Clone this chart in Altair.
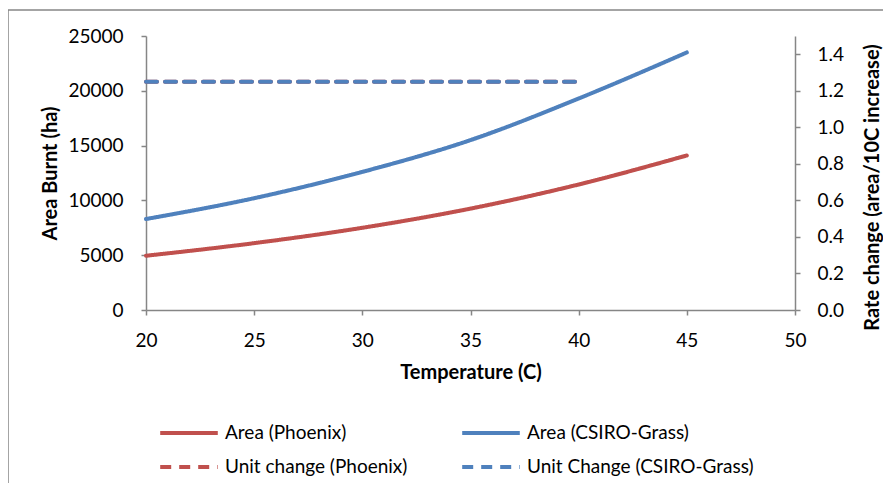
import altair as alt
import pandas as pd

# ---- data ----
temps = [20, 25, 30, 35, 40, 45]
area_phoenix = [4950, 6100, 7500, 9250, 11450, 14100]
area_csiro = [8300, 10200, 12600, 15500, 19300, 23500]

unit_temps = [20, 25, 30, 35, 40]
unit_phoenix = [1.25, 1.25, 1.25, 1.25, 1.25]
unit_csiro = [1.25, 1.25, 1.25, 1.25, 1.25]

series_order = ["Area (Phoenix)", "Area (CSIRO-Grass)",
                "Unit change (Phoenix)", "Unit Change (CSIRO-Grass)"]
x_ticks = [20, 25, 30, 35, 40, 45, 50]
left_ticks = [0, 5000, 10000, 15000, 20000, 25000]
right_ticks = [0.0, 0.2, 0.4, 0.6, 0.8, 1.0, 1.2, 1.4]

RED = "#C0504D"
BLUE = "#4F81BD"
GRAY = "#868686"
FONT = "Lato"

area_df = pd.DataFrame({
    "T": temps + temps,
    "v": area_phoenix + area_csiro,
    "series": [series_order[0]] * len(temps) + [series_order[1]] * len(temps),
})
unit_df = pd.DataFrame({
    "T": unit_temps + unit_temps,
    "v": unit_phoenix + unit_csiro,
    "series": [series_order[2]] * len(unit_temps) + [series_order[3]] * len(unit_temps),
})

legend = alt.Legend(
    title=None, orient="none", legendX=23, legendY=377, direction="horizontal",
    columns=2, columnPadding=46, rowPadding=4, padding=0,
    symbolType="M-1.6,0H1.6", symbolSize=1296, symbolStrokeWidth=4,
    labelFont=FONT, labelFontSize=19, labelColor="black", labelOffset=16,
    labelLimit=500,
)
color = alt.Color("series:N", scale=alt.Scale(domain=series_order,
                                             range=[RED, BLUE, RED, BLUE]),
                  legend=legend)
dash = alt.StrokeDash("series:N", scale=alt.Scale(domain=series_order,
                                                 range=[[1, 0], [1, 0], [11, 8], [11, 8]]),
                      legend=legend)

x_enc = alt.X("T:Q", scale=alt.Scale(domain=[20, 50], nice=False),
              axis=alt.Axis(values=x_ticks, title="Temperature (C)", grid=False,
                            tickSize=5, labelPadding=16, titlePadding=12,
                            labelFlush=False, labelFontSize=19, titleFontSize=20))

area_layer = alt.Chart(area_df).mark_line(strokeWidth=4, interpolate="monotone",
                                          strokeCap="round").encode(
    x=x_enc,
    y=alt.Y("v:Q", scale=alt.Scale(domain=[0, 25000], nice=False),
            axis=alt.Axis(values=left_ticks, format="d", title="Area Burnt (ha)",
                          grid=False, tickSize=5, labelPadding=18, titlePadding=7,
                          labelFontSize=19, titleFontSize=20)),
    color=color, strokeDash=dash,
)

y_right = alt.Y("v:Q", scale=alt.Scale(domain=[0, 1.5], nice=False),
                axis=alt.Axis(orient="right", values=right_ticks, format=".1f",
                              title="Rate change  (area/10C increase)", titleAngle=270,
                              titleY=151,
                              grid=False, tickSize=5, labelPadding=17, titlePadding=39,
                              labelFontSize=19, titleFontSize=20))
unit_base = alt.Chart(unit_df).mark_line(strokeWidth=4, strokeCap="round").encode(
    x=x_enc, y=y_right, color=color, strokeDash=dash)
unit_layer = alt.layer(
    unit_base.transform_filter(alt.datum.series == series_order[2]),
    unit_base.transform_filter(alt.datum.series == series_order[3]),
)

frame_df = pd.DataFrame({"d": [0]})
frame_left = alt.Chart(frame_df).mark_rule(color=GRAY, strokeWidth=1.5).encode(
    x=alt.value(-138), y=alt.value(-26), y2=alt.value(470))
frame_top = alt.Chart(frame_df).mark_rule(color=GRAY, strokeWidth=1.5).encode(
    x=alt.value(-138), x2=alt.value(800), y=alt.value(-26))

chart = alt.layer(area_layer, unit_layer, frame_left, frame_top).resolve_scale(
    y="independent"
).properties(
    width=649, height=274,
    autosize=alt.AutoSizeParams(type="none"),
    padding={"left": 138, "top": 28, "right": 88, "bottom": 173},
    background="white",
).configure_view(stroke=None).configure_axis(
    domainColor=GRAY, tickColor=GRAY, domainWidth=1.5, tickWidth=1.5,
    labelFont=FONT, titleFont=FONT, labelColor="black", titleColor="black",
    titleFontWeight="bold",
)

chart.save("out.html", embed_options={"renderer": "svg", "actions": False})
